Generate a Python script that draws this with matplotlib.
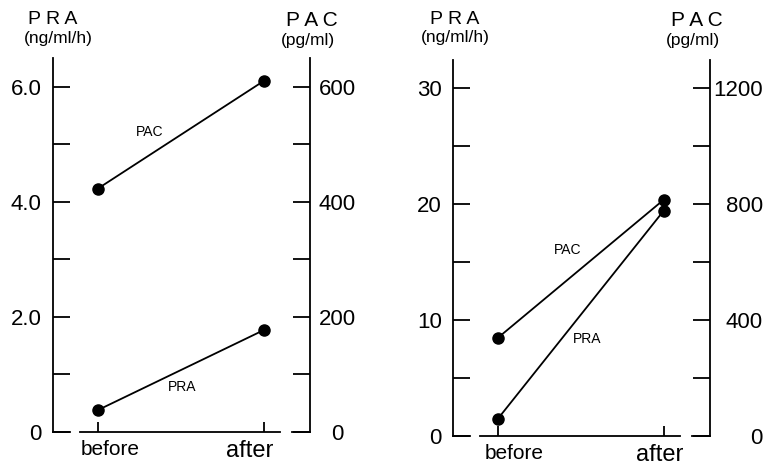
import matplotlib.pyplot as plt
from matplotlib.ticker import MultipleLocator
from matplotlib.transforms import ScaledTranslation

plt.rcParams['font.family'] = ['Liberation Sans', 'DejaVu Sans']

# data
phases = ['before', 'after']
left_pra = [0.38, 1.77]      # ng/ml/h
left_pac = [423, 610]        # pg/ml
right_pra = [1.47, 19.4]
right_pac = [338, 814]

left_pra_ticks = [0, 2.0, 4.0, 6.0]
left_pac_ticks = [0, 200, 400, 600]
right_pra_ticks = [0, 10, 20, 30]
right_pac_ticks = [0, 400, 800, 1200]

lw = 1.3
tick_len = 12
num_size = 16

fig = plt.figure(figsize=(7.7, 4.68), dpi=100)


def panel(rect, pra, pac, pra_ticks, pac_ticks, pra_top, ratio, pra_minor, pac_minor,
          fmt, pac_ha, pac_pad, xshift, lab_pac, lab_pra, titles):
    ax = fig.add_axes(rect)
    ax2 = ax.twinx()
    x = [0, 1]
    ax.set_xlim(-0.27, 1.28)
    ax.set_ylim(0, pra_top)
    ax2.set_ylim(0, pra_top * ratio)

    ax.plot(x, pra, color='black', lw=lw, marker='o', ms=8, clip_on=False, zorder=3)
    ax2.plot(x, pac, color='black', lw=lw, marker='o', ms=8, clip_on=False, zorder=3)

    for a in (ax, ax2):
        a.spines['top'].set_visible(False)
        for s in a.spines.values():
            s.set_linewidth(lw)
    ax.spines['right'].set_visible(False)
    ax2.spines['left'].set_visible(False)
    ax2.spines['bottom'].set_visible(False)
    ax.spines['bottom'].set_bounds(-0.11, 1.1)
    # short corner stubs of the baseline
    ax.axhline(0, xmin=0, xmax=0.066, color='black', lw=lw, clip_on=False)
    ax.axhline(0, xmin=0.93, xmax=1.0, color='black', lw=lw, clip_on=False)

    ax.set_yticks(pra_ticks)
    ax.set_yticklabels([fmt(v) for v in pra_ticks], fontsize=num_size)
    ax.yaxis.set_minor_locator(MultipleLocator(pra_minor))
    ax2.set_yticks(pac_ticks)
    ax2.set_yticklabels([f'{v:g}' for v in pac_ticks], fontsize=num_size, ha=pac_ha)
    ax2.yaxis.set_minor_locator(MultipleLocator(pac_minor))
    ax.tick_params(axis='y', which='both', direction='in', length=tick_len, width=lw, pad=8)
    ax2.tick_params(axis='y', which='both', direction='in', length=tick_len, width=lw,
                    pad=pac_pad)

    ax.set_xticks(x)
    ax.set_xticklabels(phases)
    ax.tick_params(axis='x', direction='in', length=7, width=lw, pad=6)
    labs = ax.get_xticklabels()
    labs[0].set_fontsize(num_size - 1)
    labs[1].set_fontsize(num_size + 1)
    for lab, dx in zip(labs, xshift):
        lab.set_transform(lab.get_transform() + ScaledTranslation(dx / 100, 0, fig.dpi_scale_trans))

    ax.text(lab_pac[0], lab_pac[1], 'PAC', transform=ax.transAxes, fontsize=10,
            ha='center', va='center')
    ax.text(lab_pra[0], lab_pra[1], 'PRA', transform=ax.transAxes, fontsize=10,
            ha='center', va='center')

    (x1, y1), (x2, y2), (x3, y3), (x4, y4) = titles
    ax.text(x1, y1, 'P R A', transform=ax.transAxes, fontsize=14, ha='center', va='center')
    ax.text(x2, y2, '(ng/ml/h)', transform=ax.transAxes, fontsize=12.5, ha='center', va='center')
    ax.text(x3, y3, 'P A C', transform=ax.transAxes, fontsize=15, ha='center', va='center')
    ax.text(x4, y4, '(pg/ml)', transform=ax.transAxes, fontsize=12.5, ha='center', va='center')
    return ax, ax2


panel([0.0688, 0.0769, 0.3338, 0.799], left_pra, left_pac, left_pra_ticks, left_pac_ticks,
      6.5, 100, 1.0, 100, lambda v: '0' if v == 0 else f'{v:.1f}', 'center', 19.5, (12, -14),
      (0.377, 0.802), (0.502, 0.120),
      [(0.0, 1.104), (0.02, 1.053), (1.008, 1.101), (0.992, 1.048)])

panel([0.5883, 0.0684, 0.3338, 0.8034], right_pra, right_pac, right_pra_ticks, right_pac_ticks,
      32.4, 40, 5, 200, lambda v: f'{v:g}', 'right', 38, (16, -4),
      (0.447, 0.495), (0.521, 0.258),
      [(0.008, 1.109), (0.008, 1.059), (0.949, 1.104), (0.934, 1.053)])

fig.savefig('out.png', dpi=100)
